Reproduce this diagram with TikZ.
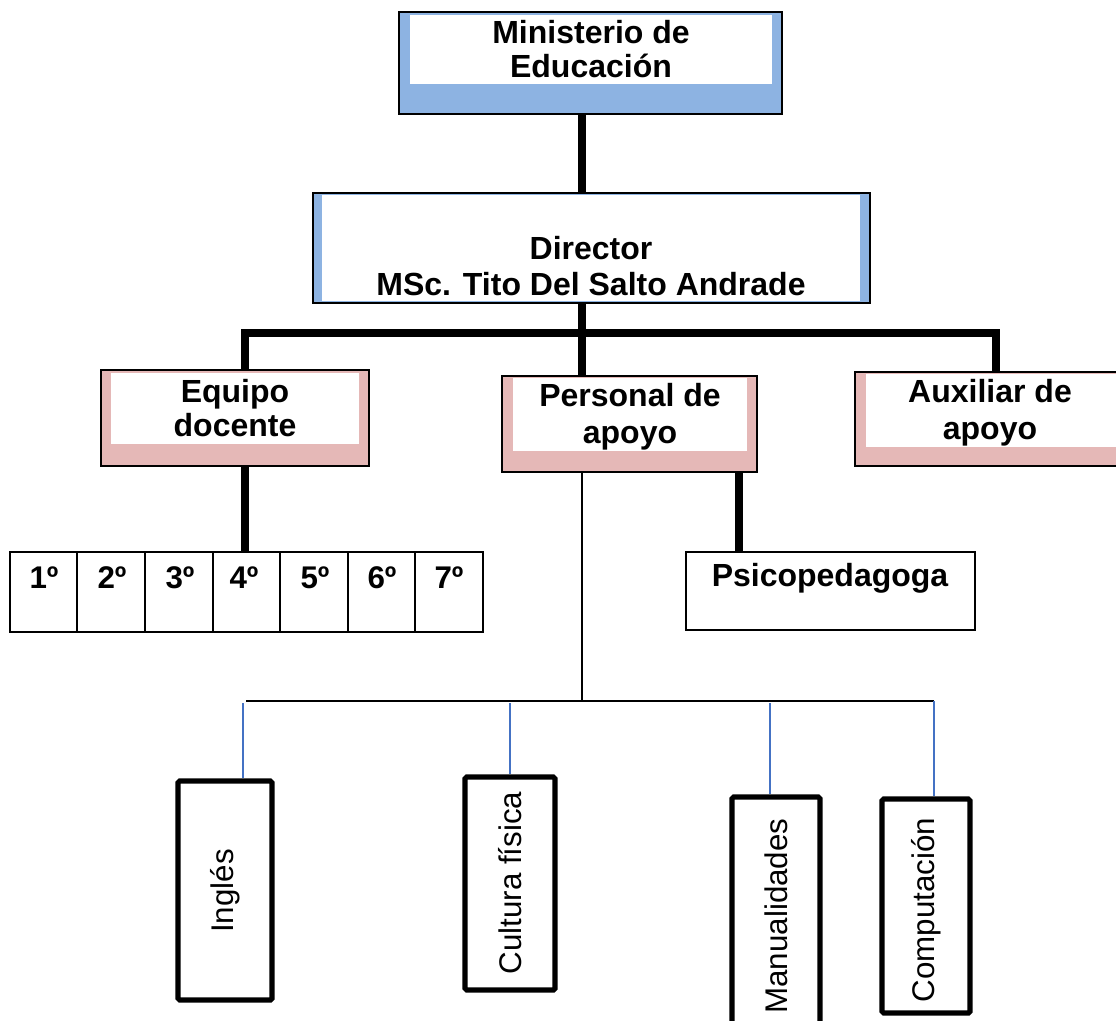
\documentclass[tikz,border=0pt]{standalone}
\usepackage{fontspec}
\setmainfont{Liberation Sans}
\usetikzlibrary{fit}
\definecolor{bandblue}{RGB}{141,179,226}
\definecolor{bandpink}{RGB}{229,184,183}
\definecolor{linkblue}{RGB}{68,114,196}
\begin{document}
\begin{tikzpicture}[x=0.75pt,y=-0.75pt,
  boxframe/.style={draw=black, line width=1.6pt, inner sep=0pt},
  headtext/.style={font=\fontsize{24}{26}\selectfont\bfseries, align=center, inner sep=0pt},
  gradetext/.style={font=\fontsize{23.5}{26}\selectfont\bfseries, inner sep=0pt},
  subjbox/.style={draw=black, line width=3.8pt, rounded corners=1.2pt, inner sep=0pt},
  subjtext/.style={font=\fontsize{23.5}{26}\selectfont, rotate=90, inner sep=0pt},
  thickc/.style={line width=6pt, black},
  thinc/.style={line width=1.2pt, black},
  bluec/.style={line width=1.2pt, linkblue}]
\clip (0,0) rectangle (1116,1020);
\fill[white] (0,0) rectangle (1116,1020);

% Ministerio
\node[boxframe, fill=bandblue, fit={(399,12) (782,114)}] (min) {};
\fill[white] (410,15) rectangle (772,84);
\node[headtext] (mint) at (591,49) {Ministerio de\\Educación};

% Director
\node[boxframe, fill=bandblue, fit={(313,193) (870,303)}] (dir) {};
\fill[white] (322,195) rectangle (860,301);
\node[headtext, font=\fontsize{24}{27.5}\selectfont\bfseries] (dirt) at (591,266) {Director\\MSc. Tito Del Salto Andrade};

% Equipo docente
\node[boxframe, fill=bandpink, fit={(101,370) (369,466)}] (eq) {};
\fill[white] (111,373) rectangle (359,444);
\node[headtext] (eqt) at (235,408) {Equipo\\docente};

% Personal de apoyo
\node[boxframe, fill=bandpink, fit={(502,376) (757,472)}] (pers) {};
\fill[white] (513,378) rectangle (747,451);
\node[headtext, font=\fontsize{24}{27.5}\selectfont\bfseries] (perst) at (630,417) {Personal de\\apoyo};

% Auxiliar de apoyo
\node[boxframe, fill=bandpink, fit={(855,372) (1120,466)}] (aux) {};
\fill[white] (866,374) rectangle (1116,447);
\node[headtext, font=\fontsize{24}{27.5}\selectfont\bfseries] (auxt) at (990,413) {Auxiliar de\\apoyo};

% Grades
\node[boxframe, fit={(10,552) (77,632)}] (g1) {};
\node[boxframe, fit={(77,552) (145,632)}] (g2) {};
\node[boxframe, fit={(145,552) (213,632)}] (g3) {};
\node[boxframe, fit={(213,552) (280,632)}] (g4) {};
\node[boxframe, fit={(280,552) (348,632)}] (g5) {};
\node[boxframe, fit={(348,552) (415,632)}] (g6) {};
\node[boxframe, fit={(415,552) (483,632)}] (g7) {};
\node[gradetext] (t1) at (44,578) {1º};
\node[gradetext] (t2) at (112,578) {2º};
\node[gradetext] (t3) at (180,578) {3º};
\node[gradetext] (t4) at (244,578) {4º};
\node[gradetext] (t5) at (315,578) {5º};
\node[gradetext] (t6) at (382,578) {6º};
\node[gradetext] (t7) at (449,578) {7º};

% Psicopedagoga
\node[boxframe, fit={(686,552) (975,630)}] (psi) {};
\node[gradetext, font=\fontsize{24}{26}\selectfont\bfseries] (psit) at (830,578) {Psicopedagoga};

% Subjects
\node[subjbox, fit={(178,781) (272,1000)}] (ing) {};
\node[subjtext] (ingt) at (225,891) {Inglés};
\node[subjbox, fit={(465,777) (555,990)}] (cul) {};
\node[subjtext] (cult) at (510,883) {Cultura física};
\node[subjbox, fit={(732,797) (820,1040)}] (man) {};
\node[subjtext] (mant) at (776,916) {Manualidades};
\node[subjbox, fit={(882,799) (970,1013)}] (comp) {};
\node[subjtext] (compt) at (926,910) {Computación};

% Coordinates for connector lines
\coordinate (xm) at (582,0);
\coordinate (barL) at (245,333);
\coordinate (barM) at (582,333);
\coordinate (barR) at (996,333);
\coordinate (xpsi) at (739,0);
\coordinate (lowM) at (582,701);
\coordinate (lowL) at (246,701);
\coordinate (lowR) at (934,701);
\coordinate (bIng) at (243,703);
\coordinate (bCul) at (510,703);
\coordinate (bMan) at (770,703);

% Thick connectors
\draw[thickc] (min.south -| xm) -- (dir.north -| xm);
\draw[thickc] (dir.south -| xm) -- (pers.north -| xm);
\draw[thickc, line join=miter] (barL |- eq.north) -- (barL) -- (barR) -- (barR |- aux.north);
\draw[thickc] (eq.south -| barL) -- (g4.north -| barL);
\draw[thickc] (pers.south -| xpsi) -- (psi.north -| xpsi);

% Thin connectors
\draw[thinc] (pers.south -| xm) -- (lowM);
\draw[thinc] (lowL) -- (lowR);
\draw[bluec] (bIng) -- (ing.north -| bIng);
\draw[bluec] (bCul) -- (cul.north -| bCul);
\draw[bluec] (bMan) -- (man.north -| bMan);
\draw[bluec] (lowR) -- (comp.north -| lowR);
\end{tikzpicture}
\end{document}
